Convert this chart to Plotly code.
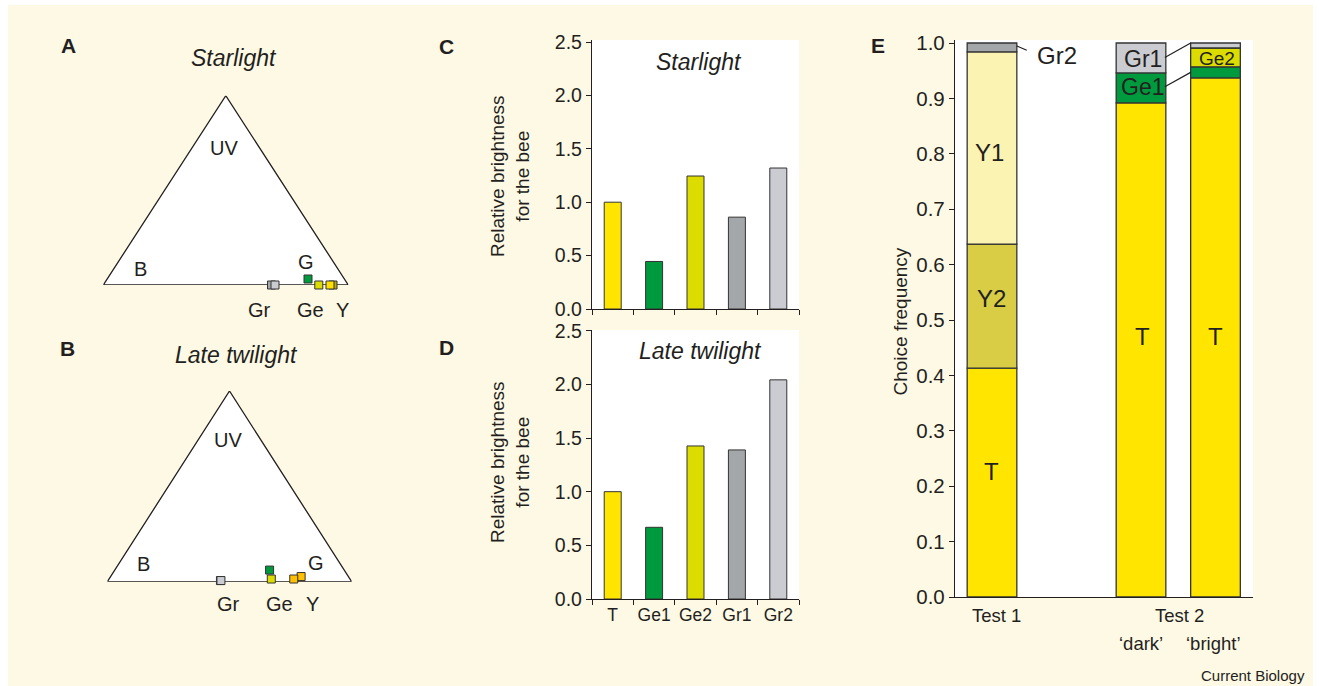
import plotly.graph_objects as go

W, H = 1319, 686

# ---------------- data ----------------
# Panels A/B: loci in the bee colour triangle
# x = fraction along base (B corner -> G corner), y = fraction of height towards UV
starlight_names = ["Gr1", "Gr2", "Ge1", "Ge2", "Y2", "Y1"]
starlight_x = [0.6865, 0.7008, 0.8355, 0.8796, 0.9376, 0.9253]
starlight_y = [0.0, 0.0, 0.0317, 0.0, 0.0, 0.0]
starlight_colors = ["#A4A7A9", "#CBCCD1", "#009A3E", "#DCDC00", "#B8A800", "#FFE000"]

twilight_names = ["Gr1", "Gr2", "Ge1", "Ge2", "Y2", "Y1"]
twilight_x = [0.463, 0.465, 0.664, 0.671, 0.793, 0.763]
twilight_y = [0.006, 0.006, 0.061, 0.014, 0.027, 0.014]
twilight_colors = ["#A4A7A9", "#CBCCD1", "#009A3E", "#DCDC00", "#FFC000", "#FFC000"]

# Panels C/D: relative brightness
categories = ["T", "Ge1", "Ge2", "Gr1", "Gr2"]
starlight_brightness = [1.0, 0.445, 1.245, 0.86, 1.32]
twilight_brightness = [1.0, 0.668, 1.426, 1.389, 2.042]
bar_colors = ["#FFE500", "#009A3E", "#DCDC00", "#A4A7A9", "#CBCCD1"]

# Panel E: choice frequency (stacked, bottom -> top)
e_positions = [0, 3, 4.5]
test1_segments = ["T", "Y2", "Y1", "Gr2"]
test1_values = [0.413, 0.224, 0.347, 0.016]
dark_segments = ["T", "Ge1", "Gr1"]
dark_values = [0.892, 0.054, 0.054]
bright_segments = ["T", "Ge1", "Ge2", "Gr1"]
bright_values = [0.937, 0.020, 0.034, 0.009]
segment_colors = {"T": "#FFE500", "Y2": "#D8CD45", "Y1": "#FBF3B2", "Gr2": "#A4A7A9",
                  "Gr1": "#CBCCD1", "Ge1": "#009A3E", "Ge2": "#DCDC00"}

# ---------------- helpers ----------------
BG = "#FEF9E5"
INK = "#231F20"
FONT = "Liberation Sans, Arial, sans-serif"


def fx(p):
    return p / W


def fy(p):
    return 1 - p / H


fig = go.Figure()

# triangles
for ax, xs, ys, cols in [("", starlight_x, starlight_y, starlight_colors),
                         ("2", twilight_x, twilight_y, twilight_colors)]:
    fig.add_trace(go.Scatter(x=[0, 1, 0.5, 0], y=[0, 0, 1, 0], mode="lines", fill="toself",
                             fillcolor="white", line=dict(color=INK, width=1.3),
                             xaxis="x" + ax, yaxis="y" + ax, hoverinfo="skip", showlegend=False,
                             cliponaxis=False))
    for xv, yv, c in zip(xs, ys, cols):
        fig.add_trace(go.Scatter(x=[xv], y=[yv], mode="markers",
                                 marker=dict(symbol="square", size=8, color=c,
                                             line=dict(color="#333333", width=1)),
                                 xaxis="x" + ax, yaxis="y" + ax, showlegend=False, cliponaxis=False))

# C / D bars
for ax, vals in [("3", starlight_brightness), ("4", twilight_brightness)]:
    fig.add_trace(go.Bar(x=categories, y=vals, width=0.41, marker=dict(color=bar_colors,
                         line=dict(color="#333333", width=1)), xaxis="x" + ax, yaxis="y" + ax,
                         showlegend=False))

# E stacked bars
for pos, segs, vals in zip(e_positions, [test1_segments, dark_segments, bright_segments],
                           [test1_values, dark_values, bright_values]):
    base = 0.0
    for s, v in zip(segs, vals):
        fig.add_trace(go.Bar(x=[pos], y=[v], base=[base], width=1.0,
                             marker=dict(color=segment_colors[s], line=dict(color="#333333", width=1.3)),
                             xaxis="x5", yaxis="y5", showlegend=False, name=s))
        base += v


def axis_common(size):
    return dict(showgrid=False, zeroline=False, showline=True, linecolor=INK, linewidth=1.3,
                ticks="outside", ticklen=5, tickcolor=INK, tickwidth=1.2, tickangle=0,
                automargin=False, tickfont=dict(size=size, color=INK, family=FONT))


hidden = dict(range=[0, 1], visible=False, automargin=False)

fig.update_layout(
    width=W, height=H, autosize=False, margin=dict(l=0, r=0, t=0, b=0, pad=0),
    paper_bgcolor="white", plot_bgcolor="rgba(0,0,0,0)", barmode="overlay", showlegend=False,
    font=dict(family=FONT, color=INK),
    xaxis=dict(domain=[fx(103.3), fx(348.3)], anchor="y", **hidden),
    yaxis=dict(domain=[fy(285), fy(95.7)], anchor="x", **hidden),
    xaxis2=dict(domain=[fx(107.3), fx(351.7)], anchor="y2", **hidden),
    yaxis2=dict(domain=[fy(581.7), fy(391)], anchor="x2", **hidden),
    xaxis3=dict(domain=[fx(592), fx(799)], type="category", range=[-0.5, 4.5], tickson="boundaries",
                showticklabels=False, anchor="y3", **axis_common(17.5)),
    yaxis3=dict(domain=[fy(309), fy(40)], range=[0, 2.5 * (309 - 40) / (309 - 42)],
                tickvals=[0, 0.5, 1, 1.5, 2, 2.5], tickformat=".1f", anchor="x3", **axis_common(19.5)),
    xaxis4=dict(domain=[fx(592), fx(799)], type="category", range=[-0.5, 4.5], tickson="boundaries",
                anchor="y4", **axis_common(17.5)),
    yaxis4=dict(domain=[fy(599), fy(330)], range=[0, 2.5 * (599 - 330) / (599 - 330.7)],
                tickvals=[0, 0.5, 1, 1.5, 2, 2.5], tickformat=".1f", anchor="x4", **axis_common(19.5)),
    xaxis5=dict(domain=[fx(955), fx(1253)], range=[-0.745, 5.255], showticklabels=False,
                anchor="y5", **{**axis_common(18), "ticks": ""}),
    yaxis5=dict(domain=[fy(597), fy(40)], range=[0, (597 - 40) / 554], dtick=0.1, tick0=0,
                tickformat=".1f", anchor="x5", **axis_common(20.5)),
)

# cream figure panel inside a thin white border
fig.add_shape(type="rect", xref="paper", yref="paper", x0=fx(8), x1=fx(1313), y0=0, y1=fy(5),
              fillcolor=BG, line=dict(width=0), layer="below")

# white plotting areas
for ax in ["3", "4", "5"]:
    fig.add_shape(type="rect", xref=f"x{ax} domain", yref=f"y{ax} domain", x0=0, x1=1, y0=0, y1=1,
                  fillcolor="white", line=dict(width=0), layer="below")

# leader lines in E
for (x0, y0, x1, y1) in [(0.5, 0.9946, 0.70, 0.987), (3.48, 0.974, 4.0, 1.0), (3.48, 0.921, 4.0, 0.947)]:
    fig.add_shape(type="line", xref="x5", yref="y5", x0=x0, y0=y0, x1=x1, y1=y1,
                  line=dict(color=INK, width=1.2))


def ann(text, x, y, size, bold=False, italic=False, angle=0, xanchor="center"):
    if bold:
        text = f"<b>{text}</b>"
    if italic:
        text = f"<i>{text}</i>"
    fig.add_annotation(text=text, x=fx(x), y=fy(y), xref="paper", yref="paper", showarrow=False,
                       font=dict(size=size, color=INK, family=FONT), textangle=angle,
                       xanchor=xanchor, yanchor="middle")


# panel letters
for t, x, y in [("A", 68.5, 45.5), ("B", 67.5, 348.5), ("C", 446.5, 46.5), ("D", 446.5, 347.5),
                ("E", 877.5, 45.5)]:
    ann(t, x, y, 21, bold=True)

# triangle titles and labels
ann("Starlight", 233.5, 58, 23, italic=True)
ann("Late twilight", 236, 355, 23, italic=True)
for t, x, y in [("UV", 224, 148), ("B", 140, 269.5), ("G", 306, 261.5), ("Gr", 259, 309.5),
                ("Ge", 310.5, 309.5), ("Y", 342.5, 309.5),
                ("UV", 228, 439.5), ("B", 143.5, 564), ("G", 315.5, 562.5), ("Gr", 228.5, 603.5),
                ("Ge", 279, 603.5), ("Y", 312.5, 603.5)]:
    ann(t, x, y, 20)

# C / D titles and y titles
ann("Starlight", 698.5, 62, 23, italic=True)
ann("Late twilight", 700.5, 351, 23, italic=True)
ann("Relative brightness<br>for the bee", 510, 176, 19, angle=-90)
ann("Relative brightness<br>for the bee", 510, 462, 19, angle=-90)

# E labels
ann("Choice frequency", 899.5, 322, 19, angle=-90)
for t, x, y, s in [("Gr2", 1057, 55.5, 24), ("Gr1", 1142.5, 59, 23), ("Ge1", 1142.5, 87.5, 23),
                   ("Ge2", 1216.5, 58.5, 19), ("Y1", 990, 153, 24), ("Y2", 991, 298, 24),
                   ("T", 991.7, 471, 24), ("T", 1142.5, 337, 24), ("T", 1215.5, 337, 24),
                   ("Test 1", 996, 615.5, 18.5), ("Test 2", 1179, 615.5, 18.5),
                   ("\u2018dark\u2019", 1141, 643.5, 18.5), ("\u2018bright\u2019", 1213.5, 643.5, 18.5)]:
    ann(t, x, y, s)
ann("Current Biology", 1307, 675.5, 15, xanchor="right")

fig.write_html("out.html", config={"responsive": False, "displayModeBar": False},
               post_script="document.documentElement.style.margin='0';document.body.style.margin='0';"
                           "document.body.style.padding='0';")
